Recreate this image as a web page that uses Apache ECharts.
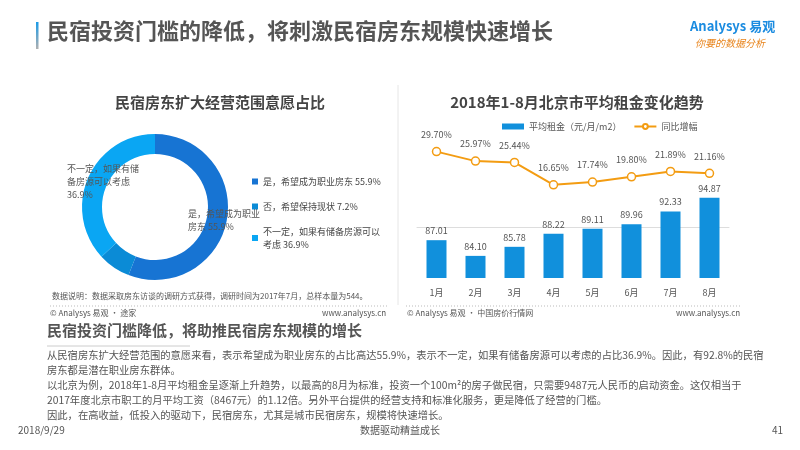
<!DOCTYPE html>
<html lang="zh">
<head>
<meta charset="UTF-8">
<title>民宿投资门槛</title>
<script src="https://cdn.jsdelivr.net/npm/echarts@6/dist/echarts.min.js"></script>
<style>
html,body{margin:0;padding:0;background:#fff;}
#main{width:800px;height:450px;}
</style>
</head>
<body>
<div id="main"></div>
<script>
// 饼图数据
var pieNames = ['是，希望成为职业房东 55.9%', '否，希望保持现状 7.2%', '不一定，如果有储备房源可以\n考虑 36.9%'];
var pieValues = [55.9, 7.2, 36.9];
var pieColors = ['#1774d3', '#0b8bd6', '#0aa6f3'];

// 租金数据
var months = ['1月', '2月', '3月', '4月', '5月', '6月', '7月', '8月'];
var rent = [87.01, 84.10, 85.78, 88.22, 89.11, 89.96, 92.33, 94.87];
var growth = [29.70, 25.97, 25.44, 16.65, 17.74, 19.80, 21.89, 21.16];

var paragraph = [
    '从民宿房东扩大经营范围的意愿来看，表示希望成为职业房东的占比高达55.9%，表示不一定，如果有储备房源可以考虑的占比36.9%。因此，有92.8%的民宿',
    '房东都是潜在职业房东群体。',
    '以北京为例，2018年1-8月平均租金呈逐渐上升趋势，以最高的8月为标准，投资一个100m²的房子做民宿，只需要9487元人民币的启动资金。这仅相当于',
    '2017年度北京市职工的月平均工资（8467元）的1.12倍。另外平台提供的经营支持和标准化服务，更是降低了经营的门槛。',
    '因此，在高收益，低投入的驱动下，民宿房东，尤其是城市民宿房东，规模将快速增长。'
];

var font = '"Noto Sans CJK SC", "Noto Sans", sans-serif';
var chart = echarts.init(document.getElementById('main'));

var graphics = [
    {type: 'rect', shape: {x: 36, y: 22, width: 2.5, height: 27}, style: {fill: new echarts.graphic.LinearGradient(0, 0, 0, 1, [{offset: 0, color: '#1a9be8'}, {offset: 1, color: '#b0b0b0'}])}},
    {type: 'text', left: 47, top: 20, style: {text: '民宿投资门槛的降低，将刺激民宿房东规模快速增长', font: 'bold 22px ' + font, fill: '#555'}},
    {type: 'text', left: 690, top: 20, style: {text: 'Analysys 易观', font: 'bold 13px ' + font, fill: '#1a8be0'}},
    {type: 'text', left: 695, top: 38, style: {text: '你要的数据分析', font: 'italic 10px ' + font, fill: '#e8851e'}},
    {type: 'line', shape: {x1: 398, y1: 85, x2: 398, y2: 305}, style: {stroke: '#e6e6e6', lineWidth: 1}},
    {type: 'line', shape: {x1: 50, y1: 306, x2: 388, y2: 306}, style: {stroke: '#bbb', lineWidth: 1, lineDash: [1, 2]}},
    {type: 'line', shape: {x1: 406, y1: 306, x2: 740, y2: 306}, style: {stroke: '#bbb', lineWidth: 1, lineDash: [1, 2]}},
    {type: 'text', left: 52, top: 292, style: {text: '数据说明：数据采取房东访谈的调研方式获得，调研时间为2017年7月，总样本量为544。', font: '8px ' + font, fill: '#555'}},
    {type: 'text', left: 50, top: 309, style: {text: '© Analysys 易观 · 途家', font: '8px ' + font, fill: '#555'}},
    {type: 'text', left: 322, top: 309, style: {text: 'www.analysys.cn', font: '8px ' + font, fill: '#555'}},
    {type: 'text', left: 407, top: 309, style: {text: '© Analysys 易观 · 中国房价行情网', font: '8px ' + font, fill: '#555'}},
    {type: 'text', left: 676, top: 309, style: {text: 'www.analysys.cn', font: '8px ' + font, fill: '#555'}},
    {type: 'text', left: 188, top: 207, style: {text: '是，希望成为职业\n房东 55.9%', font: '9px ' + font, fill: '#555', lineHeight: 13}},
    {type: 'text', left: 67, top: 162, style: {text: '不一定，如果有储\n备房源可以考虑\n36.9%', font: '9px ' + font, fill: '#555', lineHeight: 13}},
    {type: 'text', left: 47, top: 323, style: {text: '民宿投资门槛降低，将助推民宿房东规模的增长', font: 'bold 15px ' + font, fill: '#555'}},
    {type: 'line', shape: {x1: 47, y1: 346, x2: 190, y2: 346}, style: {stroke: '#ccc', lineWidth: 1}},
    {type: 'text', left: 18, top: 425, style: {text: '2018/9/29', font: '10px ' + font, fill: '#555'}},
    {type: 'text', left: 360, top: 425, style: {text: '数据驱动精益成长', font: '10px ' + font, fill: '#555'}},
    {type: 'text', left: 772, top: 425, style: {text: '41', font: '10px ' + font, fill: '#555'}}
];
paragraph.forEach(function (line, i) {
    graphics.push({type: 'text', left: 47, top: 350 + i * 15, style: {text: line, font: '10.3px ' + font, fill: '#555'}});
});
graphics.forEach(function (g) { g.z = 100; });

chart.setOption({
    textStyle: {fontFamily: font},
    title: [
        {text: '民宿房东扩大经营范围意愿占比', left: 215, top: 90, textAlign: 'center', textStyle: {fontSize: 15, fontWeight: 'bold', color: '#444'}},
        {text: '2018年1-8月北京市平均租金变化趋势', left: 572, top: 90, textAlign: 'center', textStyle: {fontSize: 15, fontWeight: 'bold', color: '#444'}}
    ],
    legend: [
        {
            data: pieNames, orient: 'vertical', left: 247, top: 170, itemWidth: 6, itemHeight: 6, itemGap: 12,
            icon: 'rect', textStyle: {fontSize: 9, color: '#444', lineHeight: 13}
        },
        {
            data: [{name: '平均租金（元/月/m2）', icon: 'rect'}, {name: '同比增幅'}], left: 497, top: 117,
            itemWidth: 22, itemHeight: 6, itemGap: 12, textStyle: {fontSize: 9, color: '#555'}
        }
    ],
    graphic: graphics,
    grid: {left: 417, right: 71, top: 100, bottom: 172},
    xAxis: {
        type: 'category', data: months, axisTick: {show: false},
        axisLine: {lineStyle: {color: '#ddd'}}, axisLabel: {color: '#555', fontSize: 9, margin: 10}
    },
    yAxis: [
        {type: 'value', min: 80, max: 113, show: false, splitLine: {show: false}},
        {type: 'value', min: -20, max: 50, show: false, splitLine: {show: false}}
    ],
    series: [
        {
            type: 'pie', radius: [53, 73], center: [155, 207], startAngle: 90, clockwise: true,
            label: {show: false}, labelLine: {show: false}, silent: true,
            data: pieNames.map(function (n, i) { return {name: n, value: pieValues[i], itemStyle: {color: pieColors[i]}}; })
        },
        {
            name: '平均租金（元/月/m2）', type: 'bar', data: rent, barWidth: 20,
            itemStyle: {color: '#1190dc'},
            label: {show: true, position: 'top', color: '#555', fontSize: 9, formatter: function (p) { return p.value.toFixed(2); }}
        },
        {
            name: '同比增幅', type: 'line', yAxisIndex: 1, data: growth,
            symbol: 'circle', symbolSize: 8,
            lineStyle: {color: '#f39c12', width: 2},
            itemStyle: {color: '#fff', borderColor: '#f39c12', borderWidth: 1.5},
            label: {show: true, position: 'top', distance: 8, color: '#555', fontSize: 9, formatter: function (p) { return p.value.toFixed(2) + '%'; }}
        }
    ]
});
</script>
</body>
</html>
